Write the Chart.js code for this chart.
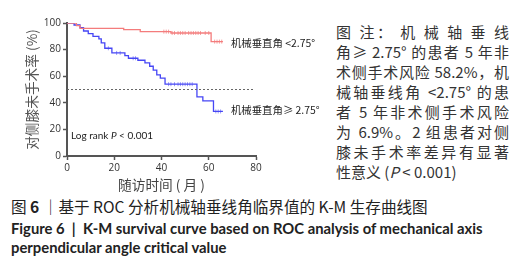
<!DOCTYPE html>
<html>
<head>
<meta charset="utf-8">
<script src="https://cdn.jsdelivr.net/npm/chart.js@4.4.1/dist/chart.umd.min.js"></script>
<style>
  body { margin: 0; background: #fff; width: 518px; height: 260px; overflow: hidden; position: relative; }
  #chart-box { position: absolute; left: 0; top: 0; width: 330px; height: 195px; }
  #note { position: absolute; left: 336px; top: 22px; width: 173px; font: 15px 'Noto Sans CJK SC'; color: #333; }
  #note div { height: 20px; line-height: 20px; text-align: justify; text-align-last: justify; white-space: nowrap; }
  #note div.last { text-align-last: left; }
  .cap { position: absolute; left: 11px; white-space: nowrap; color: #222; }
  #cap1 { top: 195px; height: 20px; line-height: 20px; font: 15.6px 'Noto Sans CJK SC'; }
  #cap2 { top: 219px; height: 18px; line-height: 18px; font: bold 14.8px Lato; }
  #cap3 { top: 238px; height: 18px; line-height: 18px; font: bold 14.8px Lato; }
</style>
</head>
<body>
<div id="chart-box"><canvas id="km-chart"></canvas></div>
<div id="note">
  <div>图 注： 机 械 轴 垂 线</div>
  <div>角≥ 2.75° 的患者 5 年非</div>
  <div>术侧手术风险 58.2%，机</div>
  <div>械轴垂线角 &lt;2.75° 的患</div>
  <div>者 5 年非术侧手术风险</div>
  <div>为 6.9%。2 组患者对侧</div>
  <div>膝未手术率差异有显著</div>
  <div class="last">性意义 (<i>P</i> &lt; 0.001)</div>
</div>
<div class="cap" id="cap1">图 <b>6</b> ｜基于 ROC 分析机械轴垂线角临界值的 K-M 生存曲线图</div>
<div class="cap" id="cap2">Figure 6 &nbsp;|&nbsp; K-M survival curve based on ROC analysis of mechanical axis</div>
<div class="cap" id="cap3">perpendicular angle critical value</div>
<script>
// 机械垂直角 <2.75°
const lowTime = [0, 4, 5.5, 24, 31, 44, 61, 66];
const lowSurv = [100, 98, 96, 95, 93.5, 92.5, 86, 86];
const lowCensorTime = [41, 42, 43, 44.5, 45.5, 47, 48, 49, 50, 51.5, 52.5, 53.5, 54.5, 55.5, 56.5, 58.5, 60, 62.5, 63.5, 64.5, 65.5];
const lowCensorSurv = [93.5, 93.5, 93.5, 92.5, 92.5, 92.5, 92.5, 92.5, 92.5, 92.5, 92.5, 92.5, 92.5, 92.5, 92.5, 92.5, 92.5, 86, 86, 86, 86];

// 机械垂直角≥ 2.75°
const highTime = [0, 3, 5.5, 7, 9, 11, 13.5, 14.5, 16, 19, 24.5, 26, 30, 33, 35, 36.5, 38, 39.5, 41.5, 55, 57.5, 62, 66];
const highSurv = [100, 98.5, 96.5, 94, 92, 90, 88, 85, 81, 77.5, 75.5, 73.5, 72, 70, 67.5, 64.5, 61, 58.5, 54, 44.5, 41.5, 33.5, 33.5];
const highCensorTime = [17.5, 21, 22.5, 28, 29, 43, 44, 45.5, 47, 48, 49, 50, 51, 52, 53, 63, 64, 65];
const highCensorSurv = [81, 77.5, 77.5, 73.5, 73.5, 54, 54, 54, 54, 54, 54, 54, 54, 54, 54, 33.5, 33.5, 33.5];

// 50% 参考线
const medianX = [0, 79];
const medianY = [50, 50];

const xTicks = [0, 20, 40, 60, 80];
const yTicks = [0, 20, 40, 60, 80, 100];

const RED = '#f47c7c';
const BLUE = '#4646f5';

function toPoints(xs, ys) {
    return xs.map((x, i) => ({ x: x, y: ys[i] }));
}

const endLabels = {
    id: 'endLabels',
    afterDatasetsDraw(chart) {
        const ctx = chart.ctx;
        const xs = chart.scales.x, ys = chart.scales.y;
        ctx.save();
        ctx.fillStyle = '#222';
        ctx.textBaseline = 'middle';
        ctx.font = "10.4px 'Noto Sans CJK SC'";
        ctx.fillText('机械垂直角 <2.75°', xs.getPixelForValue(lowTime[lowTime.length - 1]) + 8, ys.getPixelForValue(lowSurv[lowSurv.length - 1]) + 1);
        ctx.fillText('机械垂直角≥ 2.75°', xs.getPixelForValue(highTime[highTime.length - 1]) + 8, ys.getPixelForValue(highSurv[highSurv.length - 1]) - 1);
        // log rank
        let x = chart.chartArea.left + 4;
        const y = ys.getPixelForValue(15);
        ctx.font = '10px Lato';
        ctx.fillText('Log rank ', x, y);
        x += ctx.measureText('Log rank ').width;
        ctx.font = 'italic 10px Lato';
        ctx.fillText('P', x, y);
        x += ctx.measureText('P').width;
        ctx.font = '10px Lato';
        ctx.fillText(' < 0.001', x, y);
        ctx.restore();
    }
};

const ctx = document.getElementById('km-chart').getContext('2d');
new Chart(ctx, {
    type: 'line',
    data: {
        datasets: [
            {
                data: toPoints(medianX, medianY),
                borderColor: '#666',
                borderWidth: 1,
                borderDash: [2, 2],
                pointRadius: 0
            },
            {
                data: toPoints(lowTime, lowSurv),
                borderColor: RED,
                borderWidth: 1.3,
                stepped: true,
                pointRadius: 0
            },
            {
                data: toPoints(lowCensorTime, lowCensorSurv),
                showLine: false,
                pointStyle: 'line',
                rotation: 90,
                pointRadius: 2,
                borderColor: '#f6a0a0',
                pointBorderWidth: 1
            },
            {
                data: toPoints(highTime, highSurv),
                borderColor: BLUE,
                borderWidth: 1.3,
                stepped: true,
                pointRadius: 0
            },
            {
                data: toPoints(highCensorTime, highCensorSurv),
                showLine: false,
                pointStyle: 'line',
                rotation: 90,
                pointRadius: 2,
                borderColor: '#9a9af8',
                pointBorderWidth: 1
            }
        ]
    },
    options: {
        responsive: true,
        maintainAspectRatio: false,
        animation: false,
        layout: { padding: { top: 23, right: 74, left: 0, bottom: 0 } },
        plugins: { legend: { display: false }, tooltip: { enabled: false } },
        scales: {
            x: {
                type: 'linear',
                min: 0,
                max: 80,
                afterBuildTicks: (s) => { s.ticks = xTicks.map(v => ({ value: v })); },
                afterFit: (s) => { s.height = 39; },
                ticks: { color: '#333', font: { family: 'Open Sans', size: 10 }, padding: 2, maxRotation: 0 },
                grid: { drawOnChartArea: false, drawTicks: true, tickLength: 4, color: '#555', tickWidth: 1.5 },
                border: { color: '#555', width: 2 },
                title: { display: true, text: '随访时间 ( 月 )', color: '#444', font: { family: 'Noto Sans CJK SC', size: 13.7 }, padding: { top: 0, bottom: 2 } }
            },
            y: {
                min: 0,
                max: 100,
                afterBuildTicks: (s) => { s.ticks = yTicks.map(v => ({ value: v })); },
                afterFit: (s) => { s.width = 67; },
                ticks: { color: '#333', font: { family: 'Open Sans', size: 10 }, padding: 2 },
                grid: { drawOnChartArea: false, drawTicks: true, tickLength: 4, color: '#555', tickWidth: 1.5 },
                border: { color: '#555', width: 2 },
                title: { display: true, text: '对侧膝未手术率 (%)', color: '#555', font: { family: 'Noto Sans CJK SC', size: 13.7 }, padding: { top: 24, bottom: 0 } }
            }
        }
    },
    plugins: [endLabels]
});
</script>
</body>
</html>
